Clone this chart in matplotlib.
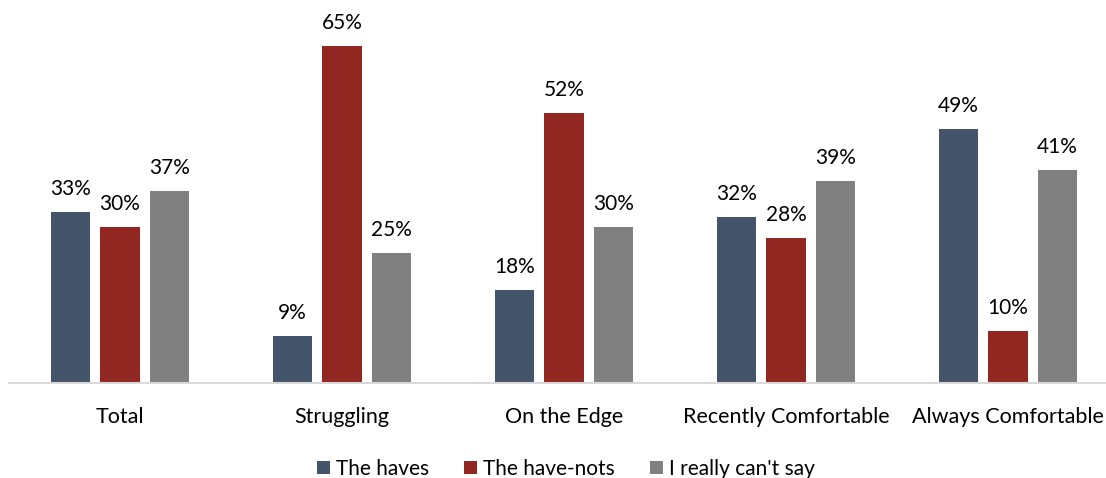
import matplotlib
matplotlib.use("Agg")
import matplotlib.pyplot as plt
import numpy as np

plt.rcParams['font.family'] = ['Lato', 'DejaVu Sans']

categories = ["Total", "Struggling", "On the Edge", "Recently Comfortable", "Always Comfortable"]
series_names = ["The haves", "The have-nots", "I really can't say"]
haves = [33, 9, 18, 32, 49]
have_nots = [30, 65, 52, 28, 10]
cant_say = [37, 25, 30, 39, 41]
colors = ["#44546A", "#922722", "#808080"]

W, H = 1106, 478
fig = plt.figure(figsize=(W/100, H/100), dpi=100)
left = 9 / W
bottom = (H - 383) / H
ymax = 70
top_px = 383 - ymax * 5.185
ax = fig.add_axes([left, bottom, (W - 9) / W, (383 - top_px) / H])

x = np.arange(len(categories))
bw = 0.176
off = 0.223
for i, (vals, name, c) in enumerate(zip([haves, have_nots, cant_say], series_names, colors)):
    pos = x + (i - 1) * off
    ax.bar(pos, vals, width=bw, color=c, label=name, zorder=2)
    for p, v in zip(pos, vals):
        ax.text(p, v + 3.3, f"{v}%", ha='center', va='baseline', fontsize=15, color='#000000')

ax.set_xlim(-0.5, 4.5 - (1119 - 1106) / 222)
ax.set_ylim(0, ymax)
ax.set_yticks([])
ax.set_xticks(x)
ax.set_xticklabels(categories, fontsize=15.5)
ax.tick_params(axis='x', length=0, pad=17)
for s in ['top', 'right', 'left']:
    ax.spines[s].set_visible(False)
ax.spines['bottom'].set_color('#D9D9D9')
ax.spines['bottom'].set_linewidth(1.5)

leg = fig.legend(loc='center', bbox_to_anchor=(566 / W, 1 - 469 / H), ncol=3, frameon=False,
                 fontsize=15, handlelength=0.6, handleheight=0.6, handletextpad=0.3, columnspacing=1.7)

fig.savefig("out.png", dpi=100)
